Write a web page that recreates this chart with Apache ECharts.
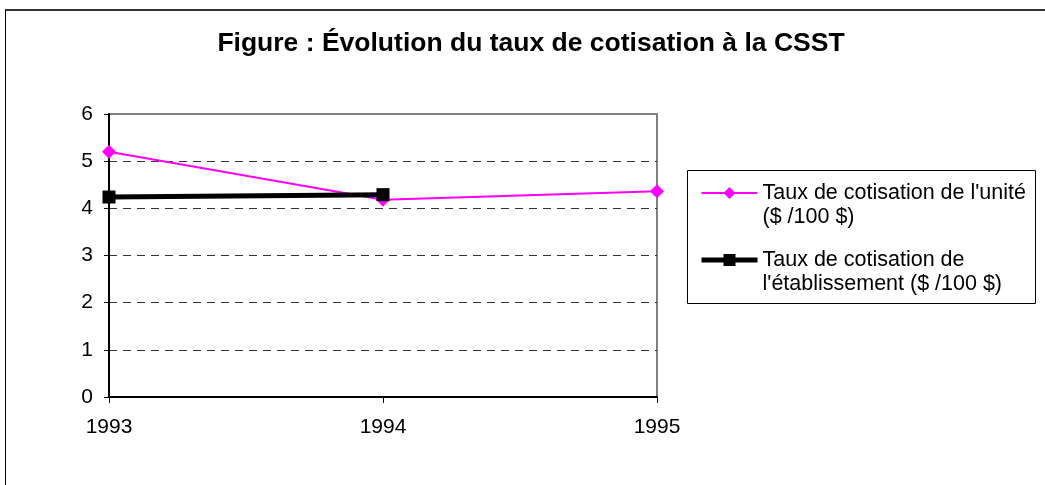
<!DOCTYPE html>
<html>
<head>
<meta charset="utf-8">
<script src="https://cdn.jsdelivr.net/npm/echarts@6/dist/echarts.min.js"></script>
<style>
  html, body { margin: 0; padding: 0; background: #fff; }
  #chart { width: 1045px; height: 485px; }
</style>
</head>
<body>
<div id="chart"></div>
<script>
// années (axe horizontal)
var years = ['1993', '1994', '1995']
// taux de cotisation ($ / 100 $)
var tauxUnite = [5.2, 4.18, 4.36]
var tauxEtablissement = [4.24, 4.29, null]
var legendNames = [
  "Taux de cotisation de l'unité\n($ /100 $)",
  "Taux de cotisation de\nl'établissement ($ /100 $)"
]

var font = 'Liberation Sans, Arial, sans-serif'
var myChart = echarts.init(document.getElementById('chart'))

myChart.setOption({
  animation: false,
  backgroundColor: '#fff',
  title: {
    text: 'Figure : Évolution du taux de cotisation à la CSST',
    left: 526,
    top: 25,
    textAlign: 'center',
    textStyle: { fontFamily: font, fontSize: 26.5, fontWeight: 'bold', color: '#000' }
  },
  // cadre du graphique et de la légende
  graphic: [
    { type: 'line', shape: { x1: 5, y1: 10, x2: 1045, y2: 10 }, style: { stroke: '#333', lineWidth: 2 } },
    { type: 'line', shape: { x1: 5.5, y1: 10, x2: 5.5, y2: 485 }, style: { stroke: '#000', lineWidth: 1 } },
    { type: 'rect', shape: { x: 687.5, y: 170.5, width: 348, height: 133 }, style: { fill: 'none', stroke: '#000', lineWidth: 1 } }
  ],
  legend: {
    orient: 'vertical',
    left: 699,
    top: 157,
    padding: 0,
    itemGap: -5,
    itemWidth: 56,
    itemHeight: 15,
    data: [
      { name: legendNames[0], lineStyle: { width: 2 } },
      { name: legendNames[1], lineStyle: { width: 5 } }
    ],
    // ligne vide en tête : le symbole s'aligne sur la première ligne du texte
    formatter: function (name) { return '\n' + name },
    textStyle: { fontFamily: font, fontSize: 21.5, lineHeight: 24, color: '#000' }
  },
  grid: {
    left: 109,
    right: 388,
    top: 114,
    bottom: 88,
    show: true,
    borderColor: '#808080',
    borderWidth: 2
  },
  xAxis: {
    type: 'category',
    boundaryGap: false,
    data: years,
    axisLine: { lineStyle: { color: '#000', width: 2 } },
    axisTick: { show: true, length: 6, lineStyle: { color: '#000' } },
    axisLabel: { margin: 20, fontFamily: font, fontSize: 21, color: '#000' },
    splitLine: { show: false }
  },
  yAxis: {
    type: 'value',
    min: 0,
    max: 6,
    interval: 1,
    axisLine: { show: true, lineStyle: { color: '#000', width: 2 } },
    axisTick: { show: true, length: 5, lineStyle: { color: '#000' } },
    axisLabel: { margin: 16, fontFamily: font, fontSize: 21, color: '#000' },
    splitLine: {
      show: true,
      showMinLine: false,
      showMaxLine: false,
      lineStyle: { color: '#333', type: [8, 6], width: 1 }
    }
  },
  series: [
    {
      name: legendNames[0],
      type: 'line',
      data: tauxUnite,
      symbol: 'diamond',
      symbolSize: 14,
      color: '#FF00FF',
      lineStyle: { color: '#FF00FF', width: 2 },
      itemStyle: { color: '#FF00FF' }
    },
    {
      name: legendNames[1],
      type: 'line',
      data: tauxEtablissement,
      symbol: 'rect',
      symbolSize: 13,
      color: '#000',
      lineStyle: { color: '#000', width: 5 },
      itemStyle: { color: '#000' }
    }
  ]
})
</script>
</body>
</html>
